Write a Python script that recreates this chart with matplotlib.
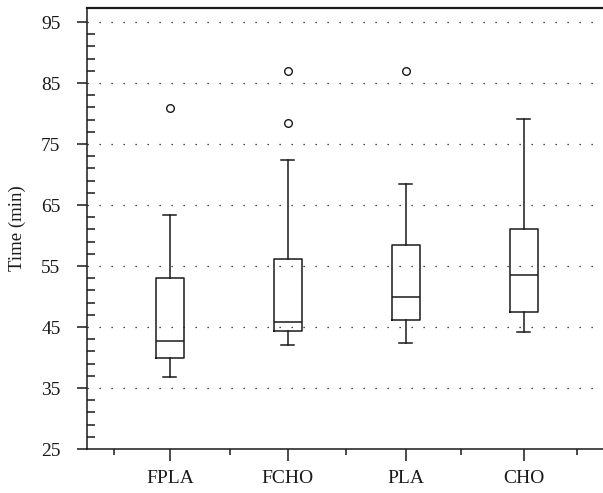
import matplotlib.pyplot as plt
from matplotlib.ticker import FixedLocator

plt.rcParams['font.family'] = ['Liberation Serif', 'DejaVu Serif']

groups = ["FPLA", "FCHO", "PLA", "CHO"]
whislo = [36.8, 42.1, 42.4, 44.1]
q1 = [40.0, 44.3, 46.1, 47.5]
med = [42.7, 45.8, 50.0, 53.5]
q3 = [53.1, 56.1, 58.4, 61.0]
whishi = [63.4, 72.4, 68.4, 79.1]
fliers = [[80.9], [78.4, 87.0], [87.0], []]

stats = []
for i, g in enumerate(groups):
    stats.append({
        "label": g, "whislo": whislo[i], "q1": q1[i], "med": med[i],
        "q3": q3[i], "whishi": whishi[i], "fliers": fliers[i],
    })

ink = "#1a1a1a"
lw = 1.1
fig = plt.figure(figsize=(6.03, 4.93), dpi=100)
ax = fig.add_axes([87 / 603, 44 / 493, 516 / 603, 441 / 493])

ax.bxp(stats, positions=[1, 2, 3, 4], widths=0.237, showfliers=True,
       boxprops=dict(color=ink, linewidth=lw),
       whiskerprops=dict(color=ink, linewidth=lw),
       capprops=dict(color=ink, linewidth=lw),
       medianprops=dict(color=ink, linewidth=lw),
       flierprops=dict(marker="o", markersize=5.5, markerfacecolor="none",
                       markeredgecolor=ink, markeredgewidth=1.0),
       capwidths=0.11)

ax.set_xlim(0.297, 4.67)
ax.set_ylim(25, 97.3)
ax.yaxis.set_major_locator(FixedLocator([25, 35, 45, 55, 65, 75, 85, 95]))
ax.yaxis.set_minor_locator(FixedLocator([v for v in range(25, 97, 2) if (v - 25) % 10 != 0]))
ax.xaxis.set_minor_locator(FixedLocator([0.53, 1.51, 2.49, 3.47, 4.45]))

ax.set_xticks([1, 2, 3, 4])
ax.set_xticklabels(groups)

ax.spines["right"].set_visible(False)
for s in ["left", "top", "bottom"]:
    ax.spines[s].set_color(ink)
    ax.spines[s].set_linewidth(lw)
ax.spines["top"].set_linewidth(1.6)

ax.tick_params(axis="y", which="major", direction="out", length=7, width=lw,
               color=ink, labelsize=14, pad=12, labelcolor=ink)
ax.tick_params(axis="y", which="minor", direction="in", length=5.5, width=lw, color=ink)
ax.tick_params(axis="x", which="major", direction="out", length=8.4, width=lw,
               color=ink, labelsize=14, pad=7, labelcolor=ink)
ax.tick_params(axis="x", which="minor", direction="out", length=4.3, width=lw, color=ink)

ax.yaxis.grid(True, which="major", color="#111111", linewidth=0.9,
              linestyle=(0, (1, 8.6)))
ax.set_axisbelow(True)

ax.set_ylabel("Time (min)", fontsize=13.5, color=ink, labelpad=11)

fig.savefig("out.png", dpi=100)
